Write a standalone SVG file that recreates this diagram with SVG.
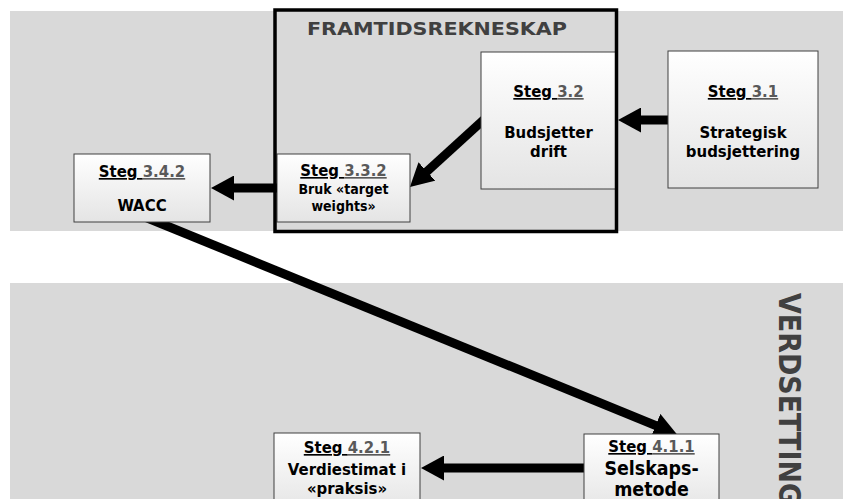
<svg xmlns="http://www.w3.org/2000/svg" width="843" height="499" viewBox="0 0 843 499">
<style>
.band{fill:#d9d9d9}
.node{fill:url(#ng);stroke:#404040;stroke-width:1}
.t{font-family:"DejaVu Sans Condensed","DejaVu Sans",Verdana,sans-serif;font-stretch:condensed;font-weight:bold;text-anchor:middle;fill:#000}
.s{font-size:16.6px}
.u{text-decoration:underline}
.num{fill:#595959}
.conn{stroke:#000;stroke-width:9;fill:none;marker-end:url(#ah)}
.title{font-family:"DejaVu Sans Condensed","DejaVu Sans",Verdana,sans-serif;font-stretch:condensed;font-weight:bold;fill:#404040}
</style>
<defs>
<linearGradient id="ng" x1="0" y1="0" x2="0" y2="1">
<stop offset="0" stop-color="#ffffff"/>
<stop offset="1" stop-color="#e4e4e4"/>
</linearGradient>
<marker id="ah" markerUnits="userSpaceOnUse" markerWidth="24" markerHeight="25" refX="3" refY="12.5" orient="auto" viewBox="0 0 24 25">
<path d="M0,0 L23,12.5 L0,25 Z" fill="#000"/>
</marker>
</defs>
<rect class="band" x="10" y="11" width="833" height="220"/>
<rect class="band" x="10" y="283" width="833" height="216"/>
<g id="connectors">
<line class="conn" x1="670" y1="120" x2="638" y2="120"/>
<line class="conn" x1="490" y1="114" x2="424.7" y2="173.5"/>
<line class="conn" x1="280" y1="188" x2="231" y2="188"/>
<line class="conn" x1="140" y1="215" x2="658.4" y2="426.6"/>
<line class="conn" x1="590" y1="468" x2="441" y2="468"/>
</g>
<g id="steg-3-4-2">
<rect class="node" x="74" y="154" width="136" height="68"/>
<text class="t s" x="142" y="177"><tspan class="u">Steg </tspan><tspan class="u num">3.4.2</tspan></text>
<text class="t s" x="142" y="211">WACC</text>
</g>
<g id="steg-3-3-2">
<rect class="node" x="277" y="154" width="133" height="68"/>
<text class="t s" x="343.5" y="176"><tspan class="u">Steg </tspan><tspan class="u num">3.3.2</tspan></text>
<text class="t" x="343.5" y="194" style="font-size:14px">Bruk «target</text>
<text class="t" x="343.5" y="211" style="font-size:14px">weights»</text>
</g>
<g id="steg-3-2">
<rect class="node" x="481" y="52" width="135" height="137"/>
<text class="t s" x="548.5" y="97"><tspan class="u">Steg </tspan><tspan class="u num">3.2</tspan></text>
<text class="t s" x="548.5" y="138">Budsjetter</text>
<text class="t s" x="548.5" y="157">drift</text>
</g>
<g id="steg-3-1">
<rect class="node" x="668" y="51" width="150" height="137"/>
<text class="t s" x="743" y="97"><tspan class="u">Steg </tspan><tspan class="u num">3.1</tspan></text>
<text class="t s" x="743" y="138">Strategisk</text>
<text class="t s" x="743" y="157">budsjettering</text>
</g>
<g id="steg-4-2-1">
<rect class="node" x="274" y="433" width="146" height="80"/>
<text class="t s" x="347" y="453"><tspan class="u">Steg </tspan><tspan class="u num">4.2.1</tspan></text>
<text class="t s" x="347" y="475">Verdiestimat i</text>
<text class="t s" x="347" y="494">«praksis»</text>
</g>
<g id="steg-4-1-1">
<rect class="node" x="584" y="434" width="135" height="80"/>
<text class="t s" x="651.5" y="452"><tspan class="u">Steg </tspan><tspan class="u num">4.1.1</tspan></text>
<text class="t" x="651.5" y="475" style="font-size:19.4px">Selskaps-</text>
<text class="t" x="651.5" y="496" style="font-size:19.4px">metode</text>
</g>
<g id="framtidsrekneskap">
<rect x="275" y="10" width="341.5" height="221.5" fill="none" stroke="#000" stroke-width="3.5"/>
<text class="title" x="437" y="35" text-anchor="middle" font-size="18" textLength="260" lengthAdjust="spacingAndGlyphs">FRAMTIDSREKNESKAP</text>
</g>
<g id="verdsetting">
<text class="title" transform="translate(779,293) rotate(90)" x="0" y="0" font-size="30" textLength="212" lengthAdjust="spacingAndGlyphs">VERDSETTING</text>
</g>
</svg>
